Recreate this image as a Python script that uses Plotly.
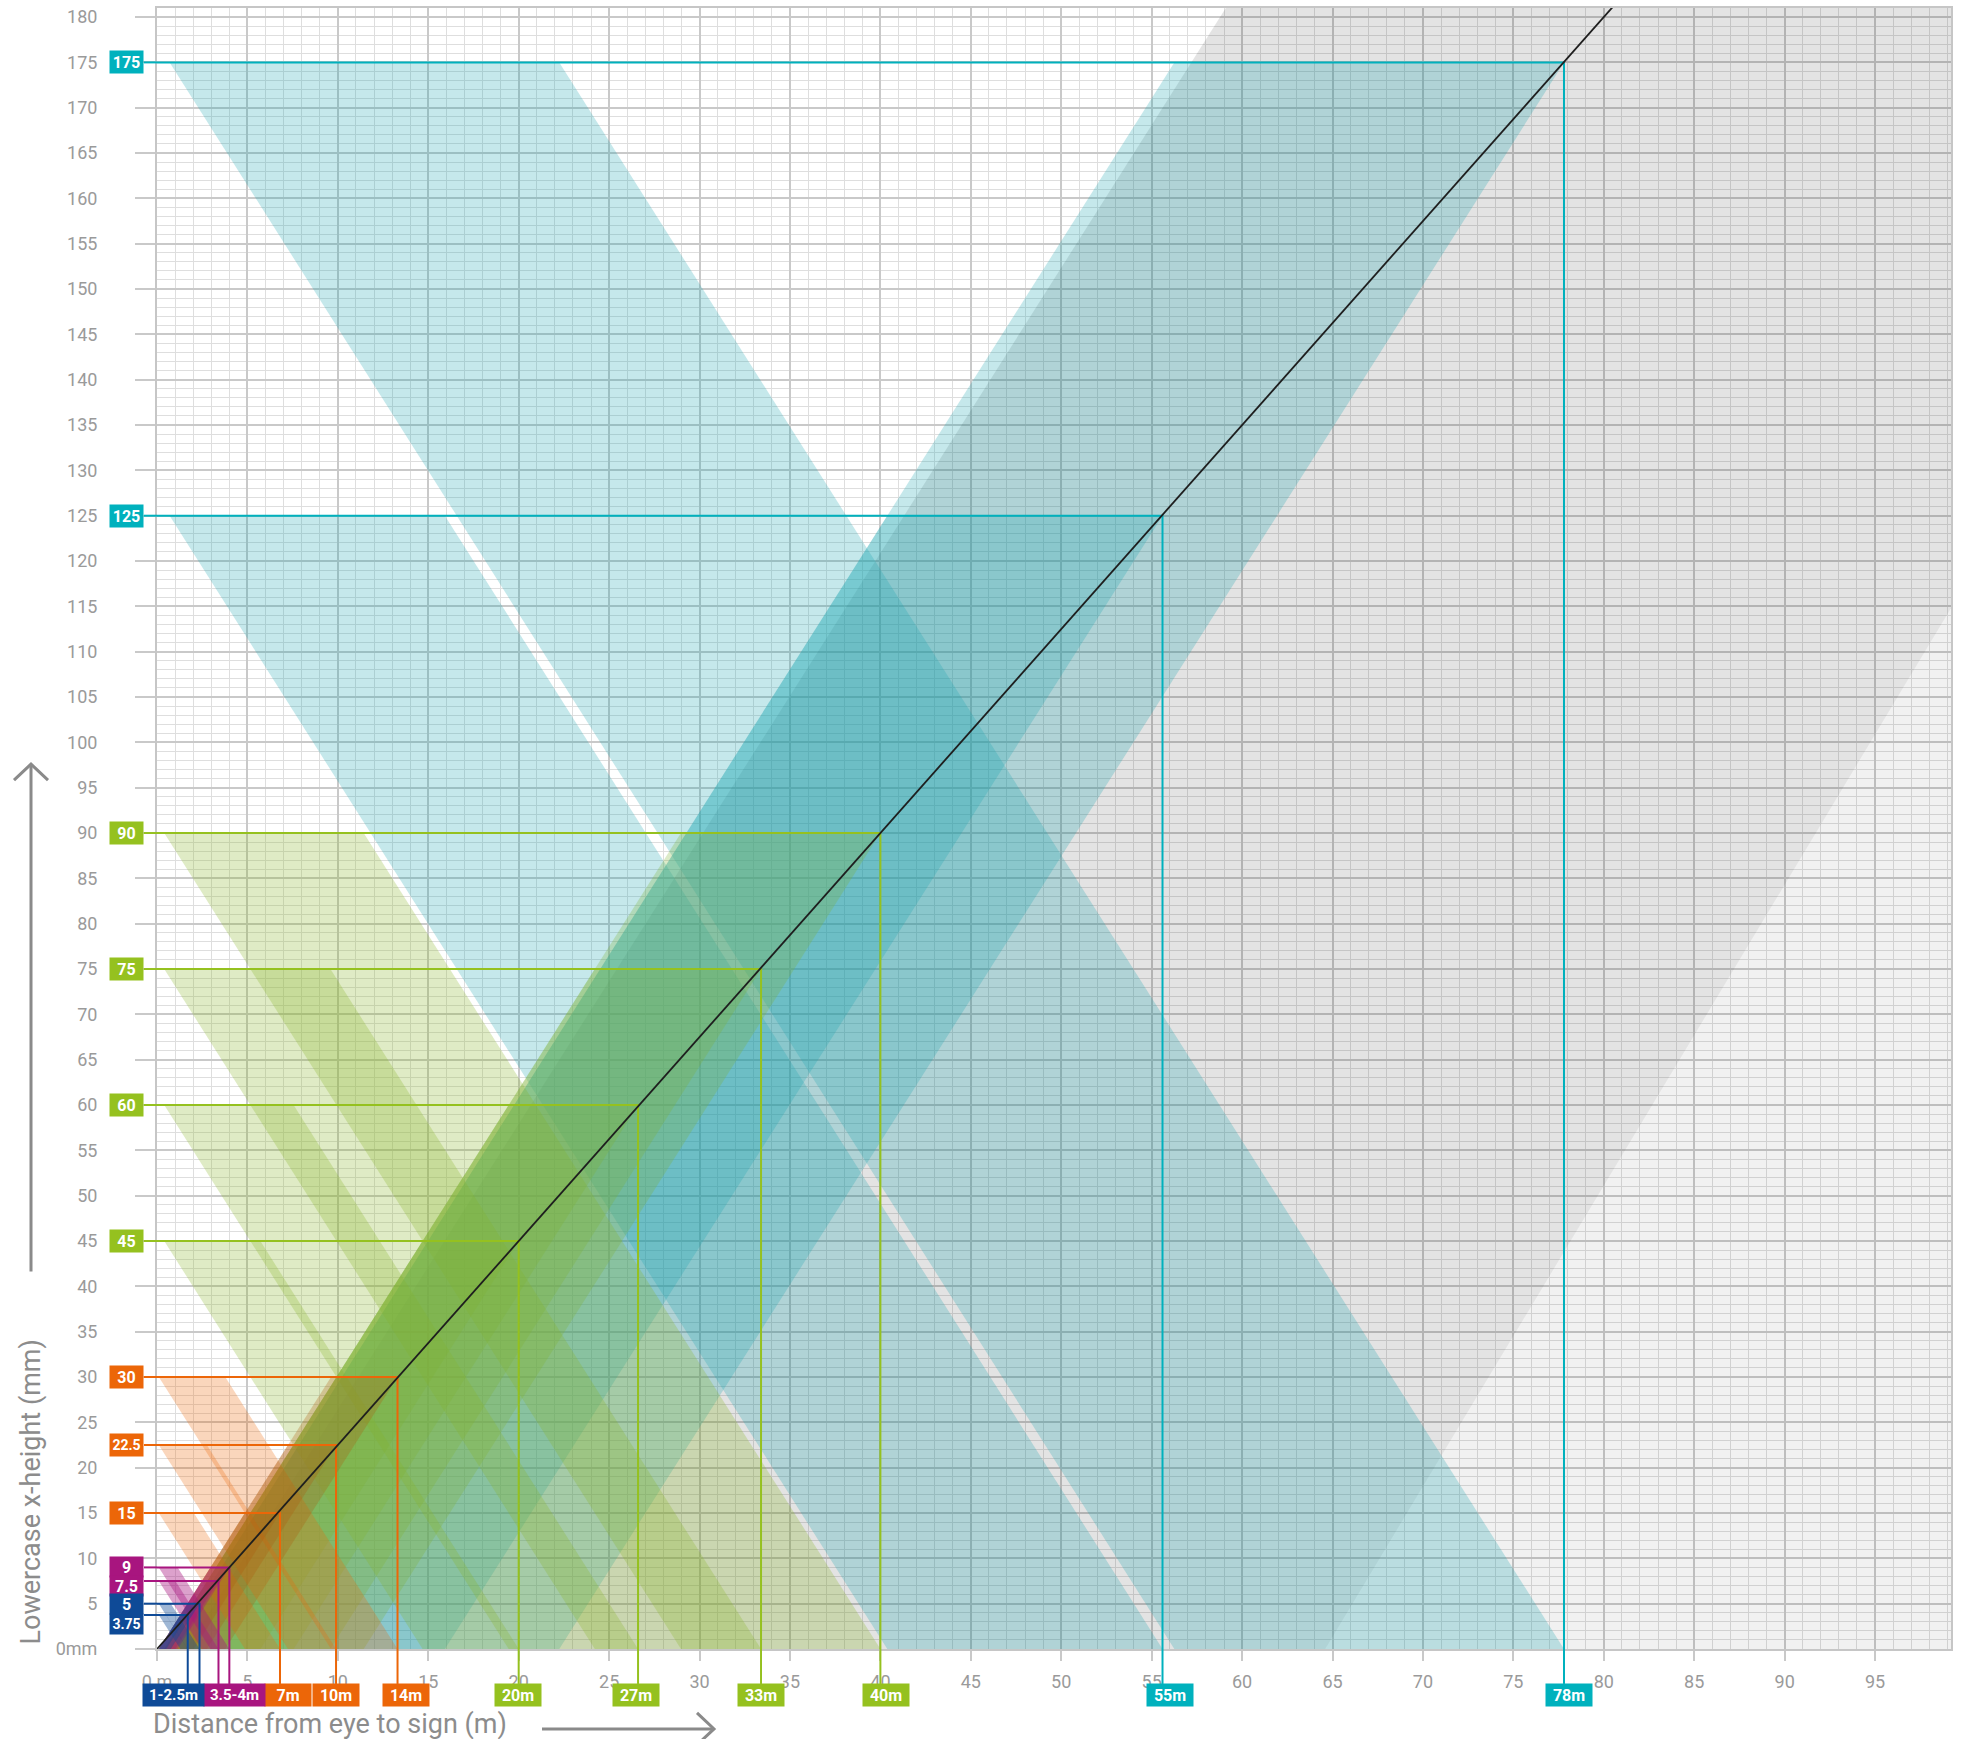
import plotly.graph_objects as go

# marked lowercase x-heights (mm) and the distance (m) each one is read from
heights = [175, 125, 90, 75, 60, 45, 30, 22.5, 15, 9, 7.5, 5, 3.75]
distances = [77.8, 55.6, 40.0, 33.4, 26.6, 20.0, 13.3, 9.9, 6.8, 4.0, 3.4, 2.35, 1.7]
groups = ["teal", "teal", "green", "green", "green", "green",
          "orange", "orange", "orange", "magenta", "magenta", "blue", "blue"]
height_labels = ["175", "125", "90", "75", "60", "45", "30", "22.5", "15", "9", "7.5", "5", "3.75"]
height_label_pos = [175, 125, 90, 75, 60, 45, 30, 22.5, 15, 9.1, 7.0, 4.95, 2.75]

distance_labels = ["78m", "55m", "40m", "33m", "27m", "20m", "14m", "10m", "7m", "3.5-4m", "1-2.5m"]
distance_label_pos = [78.1, 56.0, 40.3, 33.4, 26.5, 19.95, 13.75, 9.88, 7.23, 4.3, 0.93]
distance_label_group = ["teal", "teal", "green", "green", "green", "green",
                        "orange", "orange", "orange", "magenta", "blue"]

# reference line: legible x-height against distance
diag_distance = [0, 81]
diag_height = [0, 182.25]

# grey shading on the far side
shade_dark_x = [1.6, 64.6, 99.2, 99.2, 59.1]
shade_dark_y = [0, 0, 114.8, 181, 181]
shade_light_x = [64.6, 99.2, 99.2]
shade_light_y = [0, 0, 114.8]

x_ticks = list(range(0, 100, 5))
y_ticks = list(range(0, 185, 5))

colors = {"teal": "#00b1bd", "green": "#95c11f", "orange": "#ec6608",
          "magenta": "#a8157f", "blue": "#0e4a97"}
# fill colours: (falling band, rising band)
fill_rgb = {"teal": ((25, 165, 176), (25, 165, 176)),
            "green": ((135, 182, 40), (125, 176, 50)),
            "orange": ((236, 102, 8), (175, 88, 12)),
            "magenta": ((168, 21, 127), (168, 21, 127)),
            "blue": ((14, 74, 151), (14, 74, 151))}
alpha = {"teal": 0.25, "green": 0.27, "orange": 0.27, "magenta": 0.4, "blue": 0.4}
band_start = {"teal": 0.7, "green": 0.4, "orange": 0.1, "magenta": 0.1, "blue": 0.1}
draw_order = ["teal", "green", "orange", "magenta", "blue"]
SLOPE = 3.15  # mm per m for the crossing bands

W, H = 1974, 1739
PL, PR, PT, PB = 157, 1951, 6, 1649   # plot box in pixels


def px(x):
    return (x - PL) / (PR - PL)


def py(y):
    return (PB - y) / (PB - PT)


fig = go.Figure()

fig.add_trace(go.Scatter(x=shade_dark_x, y=shade_dark_y, fill="toself", mode="lines",
                         line=dict(width=0), fillcolor="rgba(0,0,0,0.11)", hoverinfo="skip"))
fig.add_trace(go.Scatter(x=shade_light_x, y=shade_light_y, fill="toself", mode="lines",
                         line=dict(width=0), fillcolor="rgba(0,0,0,0.055)", hoverinfo="skip"))

# the crossing bands, one X per marked size
for grp in draw_order:
    for h, d, g in zip(heights, distances, groups):
        if g != grp:
            continue
        x0 = band_start[g]
        run = h / SLOPE
        bx = [x0, d - run, d, x0 + run]
        for by, c in zip(([h, h, 0, 0], [0, 0, h, h]), fill_rgb[g]):
            fc = f"rgba({c[0]},{c[1]},{c[2]},{alpha[g]})"
            fig.add_trace(go.Scatter(x=bx, y=by, fill="toself", mode="lines",
                                     line=dict(width=0), fillcolor=fc, hoverinfo="skip"))

# connectors from the axis labels to the reference line
for h, d, g in zip(heights, distances, groups):
    fig.add_trace(go.Scatter(x=[0, d, d], y=[h, h, 0], mode="lines",
                             line=dict(color=colors[g], width=2), hoverinfo="skip"))
    fig.add_shape(type="line", xref="x domain", yref="y", x0=px(144), x1=0, y0=h, y1=h,
                  line=dict(color=colors[g], width=2))
    fig.add_shape(type="line", xref="x", yref="y domain", x0=d, x1=d, y0=py(1684), y1=0,
                  line=dict(color=colors[g], width=2))

fig.add_trace(go.Scatter(x=diag_distance, y=diag_height, mode="lines",
                         line=dict(color="#1e1e1e", width=1.8), hoverinfo="skip"))

# label boxes
for txt, yp, g in zip(height_labels, height_label_pos, groups):
    small = g in ("magenta", "blue")
    fig.add_annotation(text=f"<b>{txt}</b>", xref="paper", yref="y", x=px(144), y=yp,
                       xanchor="right", yanchor="middle", showarrow=False,
                       width=33, height=20 if small else 22, bgcolor=colors[g], borderpad=0,
                       font=dict(color="white", size=16 if len(txt) < 4 else 14, family="Roboto"))
for txt, xp, g in zip(distance_labels, distance_label_pos, distance_label_group):
    wide = "-" in txt
    fig.add_annotation(text=f"<b>{txt}</b>", xref="x", yref="paper", x=xp, y=py(1695),
                       xanchor="center", yanchor="middle", showarrow=False,
                       width=61 if wide else 46, height=22, bgcolor=colors[g], borderpad=0,
                       font=dict(color="white", size=16 if not wide else 15, family="Roboto"))

# axis titles with arrows
fig.add_annotation(text="Lowercase x-height (mm)", xref="paper", yref="paper",
                   x=px(31), y=py(1647), xanchor="center", yanchor="bottom", textangle=-90,
                   showarrow=False, font=dict(size=27, color="#8c8c8c", family="Roboto"))
fig.add_annotation(text="Distance from eye to sign (m)", xref="paper", yref="paper",
                   x=px(151), y=py(1724), xanchor="left", yanchor="middle",
                   showarrow=False, font=dict(size=27, color="#8c8c8c", family="Roboto"))
arrow = dict(color="#8a8a8a", width=3)
fig.add_shape(type="line", xref="paper", yref="paper", x0=px(31), x1=px(31),
              y0=py(1271), y1=py(763), line=arrow)
fig.add_shape(type="path", xref="paper", yref="paper",
              path=f"M {px(14)},{py(779)} L {px(31)},{py(763)} L {px(48)},{py(779)}", line=arrow)
fig.add_shape(type="line", xref="paper", yref="paper", x0=px(542), x1=px(714),
              y0=py(1729), y1=py(1729), line=arrow)
fig.add_shape(type="path", xref="paper", yref="paper",
              path=f"M {px(697)},{py(1713)} L {px(714)},{py(1729)} L {px(697)},{py(1745)}", line=arrow)

axis_common = dict(
    showgrid=True, gridcolor="#c9c9c9", gridwidth=1.5,
    minor=dict(dtick=1, showgrid=True, gridcolor="#dedede", gridwidth=1),
    showline=True, linecolor="#c6c6c6", linewidth=2, mirror=True, zeroline=False,
    ticks="outside", tickcolor="#c9c9c9", tickwidth=2, ticklabeloverflow="allow",
    tickfont=dict(size=18, color="#9a9a9a", family="Roboto"),
)
fig.update_xaxes(range=[0, 99.2], tickmode="array", tickvals=x_ticks,
                 ticktext=["0 m"] + [str(v) for v in x_ticks[1:]],
                 ticklen=10, ticklabelstandoff=5, **axis_common)
fig.update_yaxes(range=[0, 181], tickmode="array", tickvals=y_ticks,
                 ticktext=["0mm"] + [str(v) for v in y_ticks[1:]],
                 ticklen=20, ticklabelstandoff=34, **axis_common)

fig.update_layout(width=W, height=H,
                  margin=dict(l=PL, r=W - PR, t=PT, b=H - PB),
                  plot_bgcolor="white", paper_bgcolor="white", showlegend=False,
                  font=dict(family="Roboto"))

# drop the default page margin so the figure sits flush with the window
fig.write_html("out.html", config={"displayModeBar": False},
               post_script="document.body.style.margin='0px';")
